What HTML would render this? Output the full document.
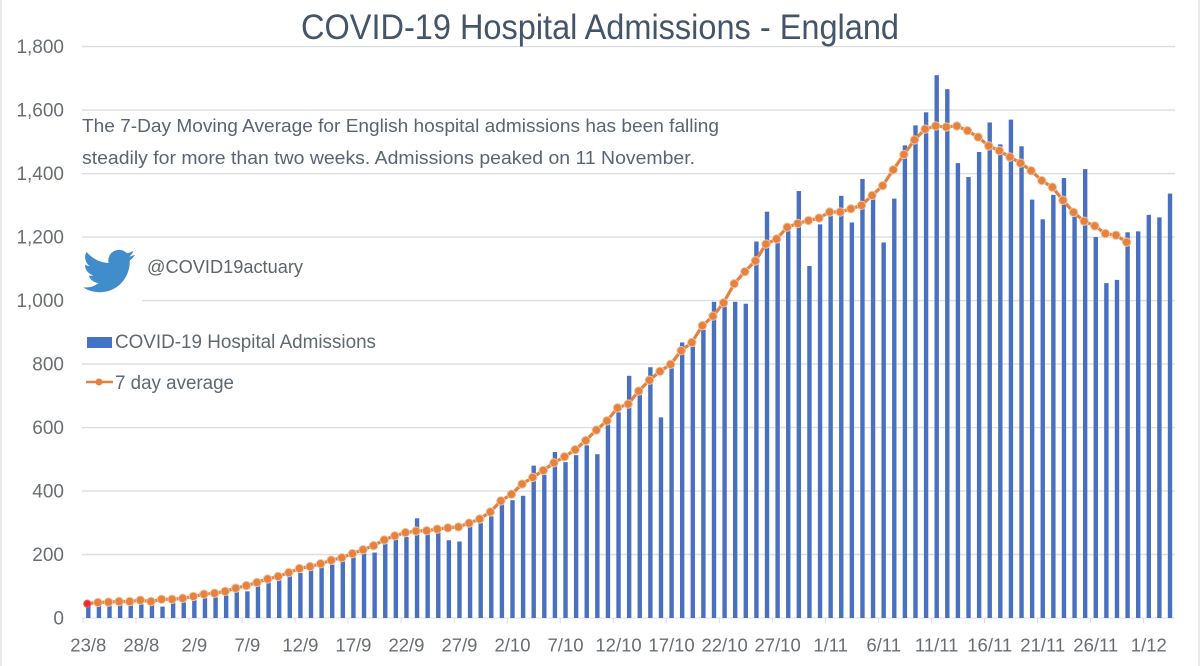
<!DOCTYPE html>
<html lang="en">
<head>
<meta charset="utf-8">
<title>COVID-19 Hospital Admissions - England</title>
<style>
html,body{margin:0;padding:0;background:#fff;width:1200px;height:666px;overflow:hidden}
svg{display:block}
text{font-family:"Liberation Sans",sans-serif}
</style>
</head>
<body>
<svg id="chart" xmlns="http://www.w3.org/2000/svg" width="1200" height="666" viewBox="0 0 1200 666">
  <rect x="0" y="0" width="1200" height="666" fill="#ffffff"/>
  <rect x="0" y="0" width="2" height="666" fill="#e9e9e9"/>
  <rect x="1198" y="0" width="2" height="666" fill="#e9e9e9"/>
  <g id="grid"></g>
  <g id="yLabels"></g>
  <g id="xAxis"></g>
  <g id="bars"></g>
  <g id="avgLine"></g>

  <text x="301" y="39" font-size="35" fill="#44546a" textLength="598" lengthAdjust="spacingAndGlyphs">COVID-19 Hospital Admissions - England</text>
  <text x="82" y="132" font-size="18" fill="#5a6472" textLength="637" lengthAdjust="spacingAndGlyphs">The 7-Day Moving Average for English hospital admissions has been falling</text>
  <text x="82" y="164" font-size="18" fill="#5a6472" textLength="613" lengthAdjust="spacingAndGlyphs">steadily for more than two weeks. Admissions peaked on 11 November.</text>

  <rect x="72" y="240" width="70" height="64" fill="#ffffff"/>
  <path transform="translate(83,245) scale(2.17)" fill="#418ccb" d="M23.953 4.57a10 10 0 01-2.825.775 4.958 4.958 0 002.163-2.723c-.951.555-2.005.959-3.127 1.184a4.92 4.92 0 00-8.384 4.482C7.69 8.095 4.067 6.13 1.64 3.162a4.822 4.822 0 00-.666 2.475c0 1.71.87 3.213 2.188 4.096a4.904 4.904 0 01-2.228-.616v.06a4.923 4.923 0 003.946 4.827 4.996 4.996 0 01-2.212.085 4.936 4.936 0 004.604 3.417 9.867 9.867 0 01-6.102 2.105c-.39 0-.779-.023-1.17-.067a13.995 13.995 0 007.557 2.209c9.053 0 13.998-7.496 13.998-13.985 0-.21 0-.42-.015-.63A9.935 9.935 0 0024 4.59z"/>
  <text x="147" y="273" font-size="18" fill="#5f646c" textLength="156" lengthAdjust="spacingAndGlyphs">@COVID19actuary</text>

  <g>
    <g>
      <rect x="87" y="337" width="25" height="11" fill="#4472c4"/>
      <text x="115" y="348" font-size="19" fill="#5f6873" textLength="261" lengthAdjust="spacingAndGlyphs">COVID-19 Hospital Admissions</text>
    </g>
    <g>
      <line x1="86" y1="382" x2="113" y2="382" stroke="#e5813c" stroke-width="2.5"/>
      <circle cx="99" cy="382" r="3.5" fill="#e5813c"/>
      <text x="115" y="389" font-size="19" fill="#5f6873" textLength="119" lengthAdjust="spacingAndGlyphs">7 day average</text>
    </g>
  </g>
</svg>
<script>
const tickValues = [0, 200, 400, 600, 800, 1000, 1200, 1400, 1600, 1800];
const tickLabels = ["0", "200", "400", "600", "800", "1,000", "1,200", "1,400", "1,600", "1,800"];
const dateLabels = ["23/8", "28/8", "2/9", "7/9", "12/9", "17/9", "22/9", "27/9", "2/10", "7/10", "12/10", "17/10", "22/10", "27/10", "1/11", "6/11", "11/11", "16/11", "21/11", "26/11", "1/12"];
const admissions = [38, 39, 39, 41, 60, 43, 41, 36, 47, 49, 58, 63, 65, 71, 82, 84, 100, 125, 121, 131, 142, 151, 160, 168, 178, 191, 203, 206, 234, 247, 255, 314, 270, 272, 245, 241, 289, 299, 320, 357, 371, 385, 480, 451, 523, 491, 513, 544, 516, 609, 648, 763, 703, 790, 632, 787, 868, 855, 908, 996, 981, 996, 990, 1186, 1280, 1182, 1222, 1345, 1109, 1240, 1267, 1330, 1246, 1383, 1319, 1183, 1321, 1489, 1552, 1593, 1710, 1666, 1433, 1389, 1468, 1561, 1492, 1570, 1486, 1318, 1256, 1333, 1386, 1264, 1414, 1200, 1055, 1065, 1215, 1218, 1270, 1262, 1337];
const sevenDayAverage = [45, 49, 50, 52, 52, 56, 52, 59, 59, 62, 68, 75, 78, 84, 94, 102, 112, 123, 131, 143, 156, 162, 171, 182, 190, 203, 215, 228, 246, 259, 269, 274, 275, 280, 284, 287, 299, 312, 334, 369, 390, 422, 443, 465, 489, 508, 530, 559, 592, 621, 662, 674, 715, 749, 777, 799, 842, 868, 921, 951, 993, 1053, 1091, 1125, 1178, 1194, 1231, 1243, 1252, 1260, 1279, 1279, 1289, 1300, 1331, 1362, 1412, 1460, 1506, 1540, 1550, 1547, 1550, 1535, 1515, 1487, 1472, 1452, 1433, 1409, 1378, 1357, 1316, 1278, 1250, 1235, 1211, 1206, 1184];
const dateLabelEvery = 5;

const NS = "http://www.w3.org/2000/svg";
const AXIS_MAX = 1800;
const Y_BASE = 618, Y_TOP = 46.6;
const X_FIRST = 88.3, X_STEP = 10.605;
const PLOT_LEFT = 82, PLOT_RIGHT = 1175;
const BAR_WIDTH = 4.4;

function xScale(i) { return X_FIRST + i * X_STEP; }
function yScale(v) { return Y_BASE - (v / AXIS_MAX) * (Y_BASE - Y_TOP); }
function make(tag, parent) {
  const el = document.createElementNS(NS, tag);
  parent.appendChild(el);
  return el;
}

const grid = document.getElementById("grid");
const yLabels = document.getElementById("yLabels");
const xAxis = document.getElementById("xAxis");
const bars = document.getElementById("bars");
const avgLine = document.getElementById("avgLine");

tickValues.forEach(function (v, i) {
  if (v !== 0) {
    const g = make("line", grid);
    
    
    g.setAttribute("x1", PLOT_LEFT);
    g.setAttribute("x2", PLOT_RIGHT);
    g.setAttribute("y1", yScale(v));
    g.setAttribute("y2", yScale(v));
    g.setAttribute("stroke", "#dedede");
    g.setAttribute("stroke-width", "1.4");
  }
  const t = make("text", yLabels);
  
  
  t.setAttribute("x", 64);
  t.setAttribute("y", yScale(v) + 6.5);
  t.setAttribute("text-anchor", "end");
  t.setAttribute("font-size", "19");
  t.setAttribute("fill", "#696e75");
  t.textContent = tickLabels[i];
});

const axisLine = make("line", xAxis);


axisLine.setAttribute("x1", PLOT_LEFT);
axisLine.setAttribute("x2", PLOT_RIGHT);
axisLine.setAttribute("y1", Y_BASE);
axisLine.setAttribute("y2", Y_BASE);
axisLine.setAttribute("stroke", "#dcdcec");
axisLine.setAttribute("stroke-width", "1");

dateLabels.forEach(function (label, i) {
  const idx = i * dateLabelEvery;
  const tick = make("line", xAxis);
  
  
  tick.setAttribute("x1", xScale(idx) - X_STEP / 2);
  tick.setAttribute("x2", xScale(idx) - X_STEP / 2);
  tick.setAttribute("y1", Y_BASE);
  tick.setAttribute("y2", Y_BASE + 5);
  tick.setAttribute("stroke", "#dcdcdc");
  tick.setAttribute("stroke-width", "1");
  const t = make("text", xAxis);
  
  
  t.setAttribute("x", xScale(idx));
  t.setAttribute("y", 651.5);
  t.setAttribute("text-anchor", "middle");
  t.setAttribute("font-size", "18.5");
  t.setAttribute("fill", "#696e75");
  t.textContent = label;
});

admissions.forEach(function (v, i) {
  const r = make("rect", bars);
  
  
  r.setAttribute("x", xScale(i) - BAR_WIDTH / 2);
  r.setAttribute("y", yScale(v));
  r.setAttribute("width", BAR_WIDTH);
  r.setAttribute("height", yScale(0) - yScale(v));
  r.setAttribute("fill", "#4a71bf");
});

const poly = make("polyline", avgLine);


poly.setAttribute("points", sevenDayAverage.map(function (v, i) {
  return (xScale(i) - 1) + "," + yScale(v);
}).join(" "));
poly.setAttribute("fill", "none");
poly.setAttribute("stroke", "#e5813c");
poly.setAttribute("stroke-width", "3.2");
poly.setAttribute("stroke-linejoin", "round");

sevenDayAverage.forEach(function (v, i) {
  const c = make("circle", avgLine);
  
  
  c.setAttribute("cx", xScale(i) - 1);
  c.setAttribute("cy", yScale(v));
  c.setAttribute("r", i === 0 ? 3.6 : 4.2);
  c.setAttribute("fill", i === 0 ? "#ee2a2a" : "#e5823e");
  c.setAttribute("stroke", i === 0 ? "#ee5a5a" : "#f0c3a3");
  c.setAttribute("stroke-width", "1");
});
</script>
</body>
</html>
